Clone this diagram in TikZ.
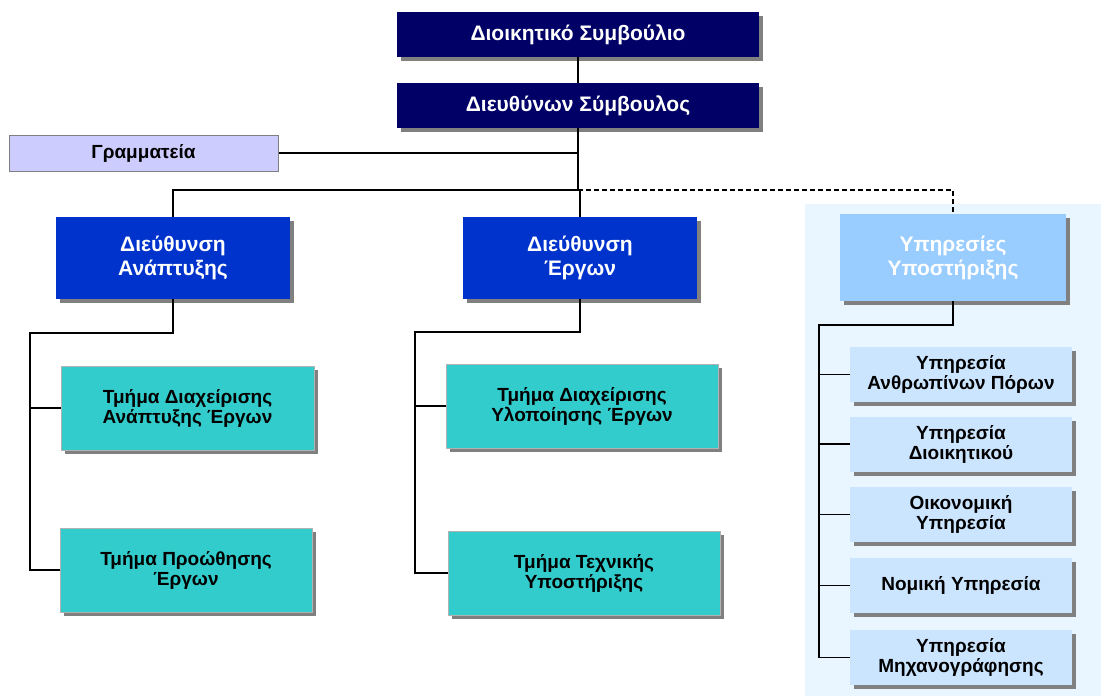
\documentclass[tikz,border=0pt]{standalone}
\usepackage{fontspec}
\setmainfont{Liberation Sans}
\usetikzlibrary{shadows}
\definecolor{navy}{HTML}{000066}
\definecolor{dirblue}{HTML}{0033CC}
\definecolor{teal2}{HTML}{33CCCC}
\definecolor{lav}{HTML}{CCCCFF}
\definecolor{supblue}{HTML}{99CCFF}
\definecolor{subblue}{HTML}{CCE5FF}
\definecolor{panel}{HTML}{EAF6FF}
\definecolor{shad}{HTML}{808080}
\begin{document}
\begin{tikzpicture}[x=1pt,y=-1pt,
  box/.style={rectangle, inner sep=2pt, align=center, font=\fontsize{19}{20}\selectfont\bfseries,
    drop shadow={shadow xshift=4pt, shadow yshift=-4pt, fill=shad, opacity=1}},
  bigtext/.style={font=\fontsize{21}{24}\selectfont\bfseries},
  topbox/.style={box, bigtext, fill=navy, text=white},
  dirbox/.style={box, bigtext, fill=dirblue, text=white},
  tmbox/.style={box, fill=teal2, draw=gray!60, line width=0.6pt, text=black},
  supbox/.style={box, bigtext, fill=supblue, text=white},
  subbox/.style={box, fill=subblue, text=black},
  grambox/.style={rectangle, fill=lav, draw=gray, line width=1pt, font=\fontsize{19}{20}\selectfont\bfseries},
  conn/.style={draw=black, line width=1.2pt},
  dconn/.style={conn, dash pattern=on 5pt off 3pt}]
\useasboundingbox (0,0) rectangle (1101,696);
\fill[white] (0,0) rectangle (1101,696);
\fill[panel] (805,204) rectangle (1101,696);
% nodes
\node[topbox, minimum width=362pt, minimum height=45pt] (ds) at (578,34.5) {Διοικητικό Συμβούλιο};
\node[topbox, minimum width=362pt, minimum height=45pt] (dsym) at (578,105.5) {Διευθύνων Σύμβουλος};
\node[grambox, minimum width=269pt, minimum height=36pt] (gram) at (143.5,153) {Γραμματεία};
\node[dirbox, minimum width=234pt, minimum height=82pt] (dan) at (173,258) {Διεύθυνση\\Ανάπτυξης};
\node[dirbox, minimum width=234pt, minimum height=82pt] (der) at (580,258) {Διεύθυνση\\Έργων};
\node[supbox, minimum width=226pt, minimum height=87pt] (ypo) at (953,257.5) {Υπηρεσίες\\Υποστήριξης};
\node[tmbox, minimum width=253pt, minimum height=84pt] (t1) at (187.5,408) {Τμήμα Διαχείρισης\\Ανάπτυξης Έργων};
\node[tmbox, minimum width=252pt, minimum height=84pt] (t2) at (186,570) {Τμήμα Προώθησης\\Έργων};
\node[tmbox, minimum width=272pt, minimum height=84pt] (t3) at (582,406) {Τμήμα Διαχείρισης\\Υλοποίησης Έργων};
\node[tmbox, minimum width=272pt, minimum height=84pt] (t4) at (584,573) {Τμήμα Τεχνικής\\Υποστήριξης};
\node[subbox, minimum width=222pt, minimum height=55pt] (s1) at (961,374.5) {Υπηρεσία\\Ανθρωπίνων Πόρων};
\node[subbox, minimum width=222pt, minimum height=55pt] (s2) at (961,444) {Υπηρεσία\\Διοικητικού};
\node[subbox, minimum width=222pt, minimum height=55pt] (s3) at (961,514.5) {Οικονομική\\Υπηρεσία};
\node[subbox, minimum width=222pt, minimum height=55pt] (s4) at (961,585.5) {Νομική Υπηρεσία};
\node[subbox, minimum width=222pt, minimum height=55pt] (s5) at (961,657.5) {Υπηρεσία\\Μηχανογράφησης};
% junctions
\coordinate (J) at (578,190);
\coordinate (La) at (30,333);
\coordinate (Ra) at (415,332);
\coordinate (Sa) at (819,325);
% connectors
\draw[conn] (ds.south) -- (dsym.north);
\draw[conn] (dsym.south) -- (J);
\draw[conn] (gram.east) -- (gram.east -| J);
\draw[conn] (J) -| (dan.north);
\draw[conn] (J) -| (der.north);
\draw[dconn] (J) -| (ypo.north);
\draw[conn] (dan.south) |- (La) -- (La |- t2.west) -- (t2.west);
\draw[conn] (La |- t1.west) -- (t1.west);
\draw[conn] (der.south) |- (Ra) -- (Ra |- t4.west) -- (t4.west);
\draw[conn] (Ra |- t3.west) -- (t3.west);
\draw[conn] (ypo.south) |- (Sa) -- (Sa |- s5.west) -- (s5.west);
\foreach \s in {s1,s2,s3,s4} \draw[conn] (Sa |- \s.west) -- (\s.west);
\end{tikzpicture}
\end{document}
